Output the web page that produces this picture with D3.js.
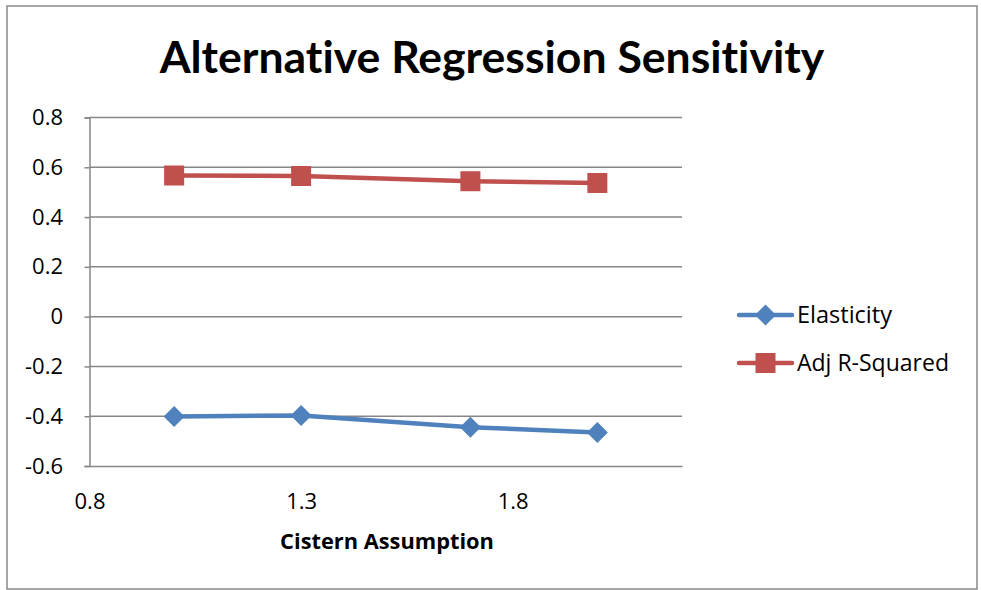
<!DOCTYPE html>
<html>
<head>
<meta charset="utf-8">
<script src="https://cdn.jsdelivr.net/npm/d3@7"></script>
<style>
  html, body { margin: 0; padding: 0; background: #fff; }
  svg { display: block; font-family: "Open Sans", Lato, sans-serif; font-variant-ligatures: none; }
</style>
</head>
<body>
<svg id="chart" width="981" height="590"></svg>
<script>
// Cistern assumption values (x) and the two regression outputs
const cistern = [1.0, 1.3, 1.7, 2.0];
const elasticity = [-0.401, -0.397, -0.444, -0.465];
const adjRSquared = [0.567, 0.565, 0.544, 0.537];
const seriesNames = ["Elasticity", "Adj R-Squared"];
const xTicks = [0.8, 1.3, 1.8];
const yTicks = [-0.6, -0.4, -0.2, 0, 0.2, 0.4, 0.6, 0.8];

const series = [
  { name: seriesNames[0], values: elasticity, color: "#4F81BD", marker: "diamond" },
  { name: seriesNames[1], values: adjRSquared, color: "#C0504D", marker: "square" }
];

const svg = d3.select("#chart");
const grid = "#868686";
const plot = { left: 89.5, right: 682, top: 117.5, bottom: 466 };

const x = d3.scaleLinear().domain([0.8, 2.2]).range([plot.left, plot.right]);
const y = d3.scaleLinear().domain([-0.6, 0.8]).range([plot.bottom, plot.top]);

// plain hyphen for negatives, one decimal except zero
const numFmt = d => d === 0 ? "0" : d3.format(".1f")(d).replace("\u2212", "-");

// scale a text's font size so it spans the given width
function fitWidth(sel, base, width) {
  sel.attr("font-size", base);
  const w = sel.node().getComputedTextLength();
  sel.attr("font-size", base * width / w);
  return sel;
}

// outer chart frame
svg.append("rect")
  .attr("x", 7).attr("y", 6).attr("width", 970).attr("height", 583)
  .attr("fill", "#fff").attr("stroke", "#898989").attr("stroke-width", 1.5);

// title
const title = svg.append("text")
  .attr("x", 492).attr("y", 73)
  .attr("text-anchor", "middle")
  .attr("font-family", "Lato, sans-serif")
  .attr("font-weight", "bold")
  .attr("fill", "#000")
  .text("Alternative Regression Sensitivity");
fitWidth(title, 38, 665);

// horizontal gridlines
svg.append("g").selectAll("line")
  .data(yTicks.filter(d => d !== -0.6))
  .join("line")
  .attr("x1", plot.left).attr("x2", plot.right)
  .attr("y1", d => y(d)).attr("y2", d => y(d))
  .attr("stroke", grid).attr("stroke-width", 1.5);

// y axis
const yAxis = svg.append("g")
  .attr("transform", `translate(${plot.left},0)`)
  .call(d3.axisLeft(y).tickValues(yTicks).tickSize(5).tickPadding(21.5).tickFormat(numFmt));
yAxis.select(".domain").attr("stroke", grid).attr("stroke-width", 1.5);
yAxis.selectAll(".tick line").attr("stroke", grid).attr("stroke-width", 1.5);
yAxis.selectAll(".tick text")
  .attr("font-size", 22).attr("fill", "#000")
  .attr("font-family", "'Open Sans', sans-serif");

// x axis
const xAxis = svg.append("g")
  .attr("transform", `translate(0,${plot.bottom})`)
  .call(d3.axisBottom(x).tickValues(xTicks).tickSize(0).tickPadding(27).tickFormat(numFmt));
xAxis.select(".domain").attr("stroke", grid).attr("stroke-width", 1.5);
xAxis.selectAll(".tick text")
  .attr("font-size", 22).attr("fill", "#000")
  .attr("font-family", "'Open Sans', sans-serif");

// x axis title
const xTitle = svg.append("text")
  .attr("x", 387).attr("y", 549)
  .attr("text-anchor", "middle")
  .attr("font-weight", "bold")
  .text("Cistern Assumption");
fitWidth(xTitle, 20, 214);

const line = d3.line().x(d => x(d[0])).y(d => y(d[1]));

function drawMarker(g, type, color, cx, cy) {
  if (type === "square") {
    g.append("rect")
      .attr("x", cx - 10).attr("y", cy - 10).attr("width", 20).attr("height", 20)
      .attr("fill", color);
  } else {
    const r = 10.5;
    g.append("path")
      .attr("d", `M${cx},${cy - r}L${cx + r},${cy}L${cx},${cy + r}L${cx - r},${cy}Z`)
      .attr("fill", color);
  }
}

// series lines and markers
series.forEach(s => {
  const pts = cistern.map((c, i) => [c, s.values[i]]);
  const g = svg.append("g");
  g.append("path")
    .attr("d", line(pts))
    .attr("fill", "none")
    .attr("stroke", s.color)
    .attr("stroke-width", 4.5)
    .attr("stroke-linejoin", "round");
  pts.forEach(p => drawMarker(g, s.marker, s.color, x(p[0]), y(p[1])));
});

// legend
const legend = svg.append("g");
const legendWidths = [95, 152];
series.forEach((s, i) => {
  const ly = 315 + i * 48;
  const g = legend.append("g");
  g.append("line")
    .attr("x1", 739).attr("x2", 792).attr("y1", ly).attr("y2", ly)
    .attr("stroke", s.color).attr("stroke-width", 4.5).attr("stroke-linecap", "round");
  drawMarker(g, s.marker, s.color, 765.5, ly);
  const t = g.append("text")
    .attr("x", 797).attr("y", ly + 8)
    .attr("fill", "#000")
    .text(s.name);
  fitWidth(t, 20, legendWidths[i]);
});
</script>
</body>
</html>
